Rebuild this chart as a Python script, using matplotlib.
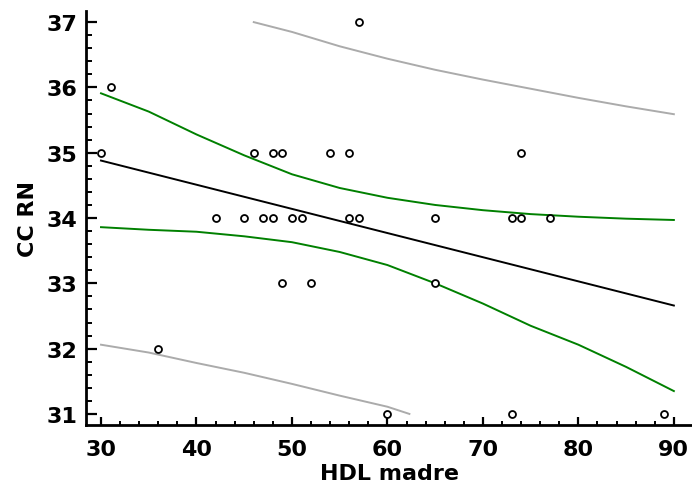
import numpy as np
import matplotlib
matplotlib.use("Agg")
import matplotlib.pyplot as plt
from matplotlib.ticker import MultipleLocator

plt.rcParams['font.family'] = ['DejaVu Sans']

# Scatter data
hdl_madre = [30, 31, 36, 42, 45, 46, 47, 48, 48, 49, 49, 50, 51, 52, 54, 56,
             56, 57, 57, 60, 65, 65, 73, 73, 74, 74, 77, 89]
cc_rn = [35, 36, 32, 34, 34, 35, 34, 35, 34, 35, 33, 34, 34, 33, 35, 35,
         34, 34, 37, 31, 34, 33, 34, 31, 34, 35, 34, 31]

# Regression line (end points)
fit_x = [30, 90]
fit_y = [34.88, 32.66]

# Confidence band (green)
ci_x = [30, 35, 40, 45, 50, 55, 60, 65, 70, 75, 80, 85, 90]
ci_upper = [35.91, 35.63, 35.28, 34.96, 34.67, 34.46, 34.31, 34.20, 34.12, 34.06, 34.02, 33.99, 33.97]
ci_lower = [33.86, 33.82, 33.79, 33.72, 33.63, 33.48, 33.28, 33.00, 32.69, 32.35, 32.06, 31.72, 31.35]

# Prediction band (gray), clipped at the axis range
pi_up_x = [46, 50, 55, 60, 65, 70, 75, 80, 85, 90]
pi_upper = [37.0, 36.85, 36.63, 36.44, 36.27, 36.12, 35.98, 35.84, 35.71, 35.59]
pi_lo_x = [30, 35, 40, 45, 50, 55, 60, 62.3]
pi_lower = [32.06, 31.94, 31.78, 31.63, 31.46, 31.28, 31.11, 31.0]

fig = plt.figure(figsize=(6.92, 4.85), dpi=100)
ax = fig.add_axes([0.1243, 0.1216, 0.8757, 0.8536])

ax.plot(pi_up_x, pi_upper, color='#ababab', lw=1.4)
ax.plot(pi_lo_x, pi_lower, color='#ababab', lw=1.4)
ax.plot(ci_x, ci_upper, color='#008000', lw=1.4)
ax.plot(ci_x, ci_lower, color='#008000', lw=1.4)
ax.plot(fit_x, fit_y, color='black', lw=1.4)
ax.plot(hdl_madre, cc_rn, 'o', ms=5, mfc='white', mec='black', mew=1.3,
        linestyle='none', zorder=5)

ax.set_xlim(28.43, 91.9)
ax.set_ylim(30.83, 37.17)

ax.spines['top'].set_visible(False)
ax.spines['right'].set_visible(False)
ax.spines['left'].set_linewidth(2)
ax.spines['bottom'].set_linewidth(2)

ax.xaxis.set_major_locator(MultipleLocator(10))
ax.xaxis.set_minor_locator(MultipleLocator(2))
ax.yaxis.set_major_locator(MultipleLocator(1))
ax.yaxis.set_minor_locator(MultipleLocator(0.2))

ax.tick_params(axis='y', which='major', direction='in', length=8, width=1.6, pad=6.5)
ax.tick_params(axis='y', which='minor', direction='in', length=4, width=1.4)
ax.tick_params(axis='x', which='major', direction='in', length=6, width=1.6, pad=10)
ax.tick_params(axis='x', which='minor', direction='in', length=3, width=1.4)

for lab in ax.get_xticklabels() + ax.get_yticklabels():
    lab.set_fontsize(16)
    lab.set_fontweight('bold')

ax.set_xlabel('HDL madre', fontsize=16, fontweight='bold', labelpad=3)
ax.set_ylabel('CC RN', fontsize=16, fontweight='bold', labelpad=6)

fig.savefig('out.png', dpi=100)
